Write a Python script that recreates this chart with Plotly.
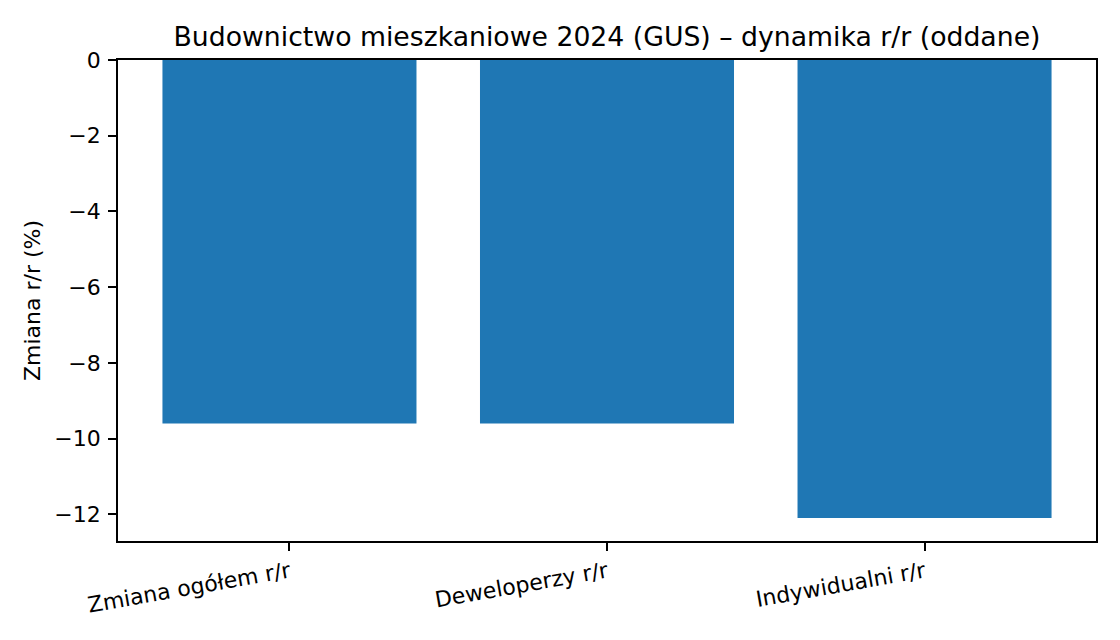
import plotly.graph_objects as go

categories = ["Zmiana ogółem r/r", "Deweloperzy r/r", "Indywidualni r/r"]
change_pct = [-9.6, -9.6, -12.1]

bar_color = "#1f77b4"
font_family = "DejaVu Sans, sans-serif"

fig = go.Figure()
fig.add_trace(go.Bar(x=categories, y=change_pct, marker_color=bar_color,
                     marker_line_width=0, width=0.8))

# the page body adds an 8px offset, so margins are shifted to compensate
lo = min(change_pct)
fig.update_layout(
    width=1120, height=640,
    margin=dict(l=110, r=32, t=52, b=107),
    paper_bgcolor="white", plot_bgcolor="white",
    font=dict(family=font_family, size=22, color="black"),
    showlegend=False,
    title=dict(text="Budownictwo mieszkaniowe 2024 (GUS) – dynamika r/r (oddane)",
               x=0.5, xref="paper", xanchor="center",
               y=1 - 29 / 640, yref="container", yanchor="middle",
               font=dict(size=26.7)),
)
fig.update_xaxes(range=[-0.54, 2.54], showline=True, mirror=True, linecolor="black",
                 linewidth=1.8, ticks="outside", ticklen=8, tickwidth=1.8,
                 tickcolor="black", tickangle=-10, showgrid=False, zeroline=False,
                 automargin=False)
fig.update_yaxes(range=[lo * 1.05, 0], showline=True, mirror=True, linecolor="black",
                 linewidth=1.8, ticks="outside", ticklen=8, tickwidth=1.8,
                 tickcolor="black", dtick=2, showgrid=False, zeroline=False,
                 automargin=False, ticklabelstandoff=3,
                 title=dict(text="Zmiana r/r (%)", standoff=8, font=dict(size=22)))

fig.write_html("out.html")
